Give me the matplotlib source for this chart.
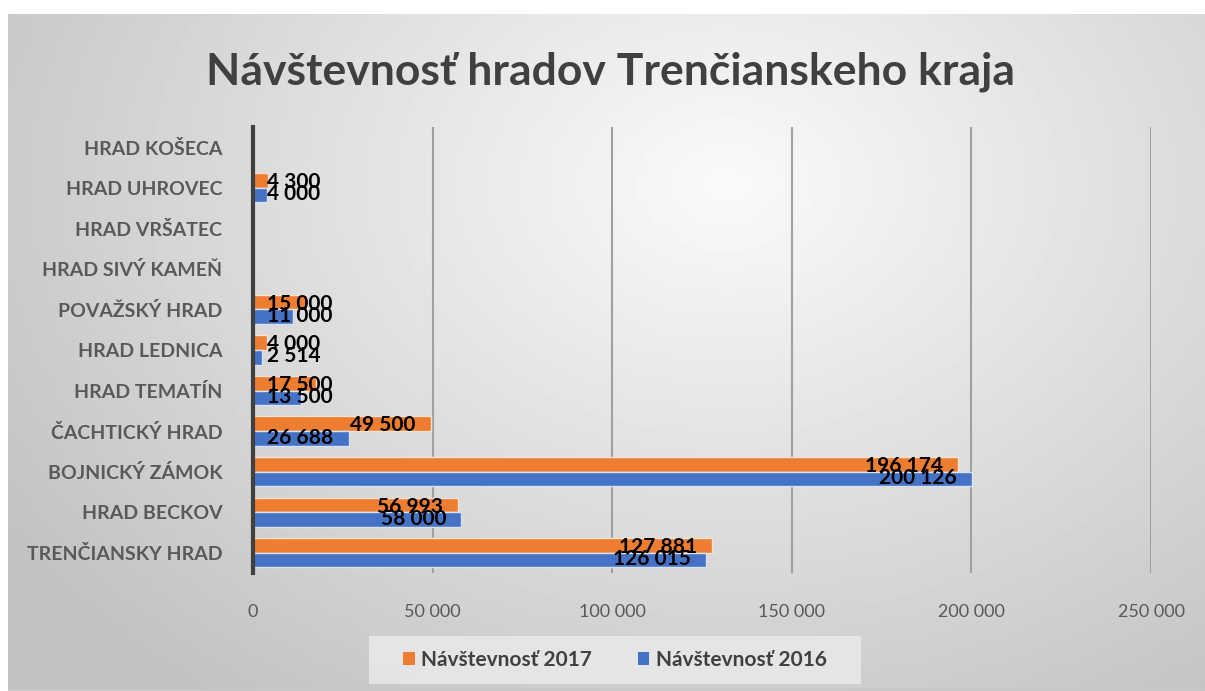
import matplotlib.pyplot as plt
import numpy as np
from matplotlib.patches import Patch, Rectangle

# data (bottom -> top as drawn)
castles = ['TRENČIANSKY HRAD', 'HRAD BECKOV', 'BOJNICKÝ ZÁMOK', 'ČACHTICKÝ HRAD',
           'HRAD TEMATÍN', 'HRAD LEDNICA', 'POVAŽSKÝ HRAD', 'HRAD SIVÝ KAMEŇ',
           'HRAD VRŠATEC', 'HRAD UHROVEC', 'HRAD KOŠECA']
visits_2017 = [127881, 56993, 196174, 49500, 17500, 4000, 15000, None, None, 4300, None]
visits_2016 = [126015, 58000, 200126, 26688, 13500, 2514, 11000, None, None, 4000, None]
x_ticks = [0, 50000, 100000, 150000, 200000, 250000]

ORANGE = '#ED7D31'
BLUE = '#4472C4'
FONT = ['Lato', 'DejaVu Sans']
plt.rcParams['font.family'] = FONT

W, H = 1205, 691


def fmt(v):
    return '{:,}'.format(int(v)).replace(',', ' ')


fig = plt.figure(figsize=(W / 100, H / 100), dpi=100)
fig.patch.set_facecolor('white')

# gradient background of the chart area
bg = fig.add_axes([8 / W, 0, 1 - 8 / W, 1 - 14 / H])
yy, xx = np.mgrid[0:1:200j, 0:1:350j]
d = np.sqrt(((xx - 0.6) / 0.75) ** 2 + ((yy - 0.25) / 1.0) ** 2)
shade = np.clip(0.98 - 0.23 * d, 0.76, 0.98)
bg.imshow(shade, cmap='gray', vmin=0, vmax=1, aspect='auto', extent=[0, 1, 1, 0])
bg.axhline(0.999, color='#c8c8c8', lw=1.5)
bg.set_axis_off()

ax = fig.add_axes([253 / W, 1 - 573 / H, (1151 - 253) / W, (573 - 127) / H])
ax.set_facecolor('none')

y = np.arange(len(castles))
h = 0.36
v17 = np.array([np.nan if v is None else v for v in visits_2017], dtype=float)
v16 = np.array([np.nan if v is None else v for v in visits_2016], dtype=float)
ax.barh(y + h / 2, v17, height=h, color=ORANGE, edgecolor='#fbe3d3', linewidth=1, zorder=3)
ax.barh(y - h / 2, v16, height=h, color=BLUE, edgecolor='#d9e2f3', linewidth=1, zorder=3)

# value labels: inside end, pushed right for short bars
for vals, ys in ((v17, y + h / 2 - 0.04), (v16, y - h / 2 + 0.02)):
    for v, yv in zip(vals, ys):
        if np.isnan(v):
            continue
        if v < 27000:
            ax.annotate(fmt(v), (0, yv), xytext=(14, 0), textcoords='offset pixels',
                        ha='left', va='center', fontsize=15, fontweight='bold', color='black', zorder=5)
        else:
            ax.annotate(fmt(v), (v, yv), xytext=(-15, 0), textcoords='offset pixels',
                        ha='right', va='center', fontsize=15, fontweight='bold', color='black', zorder=5)

ax.set_xlim(0, 250000)
ax.set_ylim(-0.5, len(castles) - 0.5)
ax.set_xticks(x_ticks)
ax.set_xticklabels([fmt(t) for t in x_ticks], fontsize=13, color='#595959')
ax.set_yticks(y)
ax.set_yticklabels(castles, fontsize=14, fontweight='bold', color='#595959')
ax.tick_params(axis='both', length=0)
ax.tick_params(axis='x', pad=22)
ax.tick_params(axis='y', pad=22)
ax.grid(axis='x', color='#a0a0a0', linewidth=1.5, zorder=0)
for s in ('top', 'right', 'bottom'):
    ax.spines[s].set_visible(False)
ax.spines['left'].set_color('#404040')
ax.spines['left'].set_linewidth(3)
ax.spines['left'].set_zorder(4)

fig.text(0.5 * (205 + 1017) / W, 1 - 72 / H, 'Návštevnosť hradov Trenčianskeho kraja',
         ha='center', va='center', fontsize=32, fontweight='bold', color='#404040')

# legend box
fig.patches.append(Rectangle((369 / W, 1 - 684 / H), (861 - 369) / W, (684 - 636) / H,
                             transform=fig.transFigure, facecolor='#e8e8e8', edgecolor='none',
                             alpha=0.9, zorder=1))
handles = [Patch(facecolor=ORANGE, label='Návštevnosť 2017'),
           Patch(facecolor=BLUE, label='Návštevnosť 2016')]
leg = fig.legend(handles=handles, loc='center', bbox_to_anchor=(615 / W, 1 - 660 / H), ncol=2,
                 frameon=False, fontsize=15, handlelength=0.55, handleheight=0.55, handletextpad=0.3,
                 columnspacing=2.2)
for t in leg.get_texts():
    t.set_fontweight('bold')
    t.set_color('#404040')

fig.savefig('out.png', dpi=100)
